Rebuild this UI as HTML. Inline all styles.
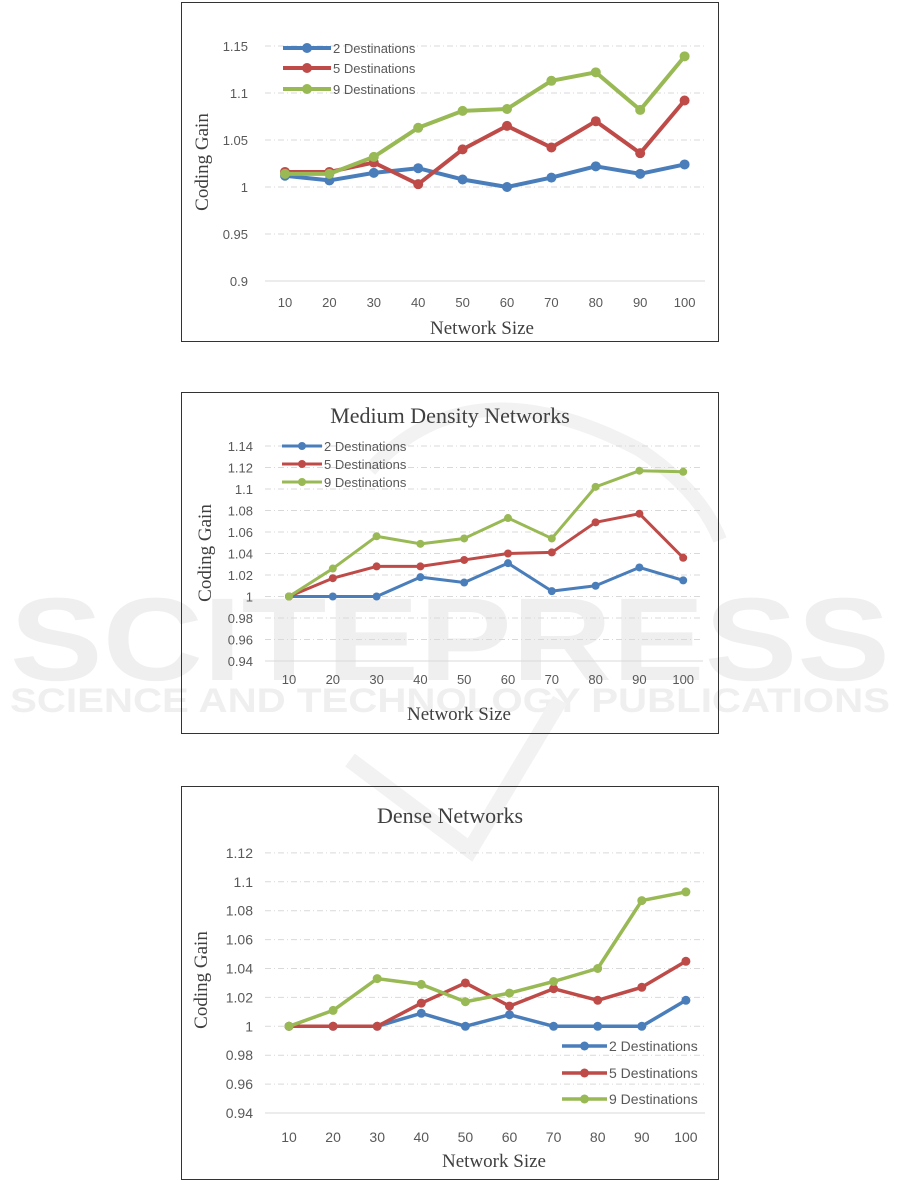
<!DOCTYPE html>
<html><head><meta charset="utf-8"><style>
html,body{margin:0;padding:0;background:#fff;width:901px;height:1181px;overflow:hidden}
svg{display:block}
.t{font-family:"Liberation Sans",sans-serif;fill:#595959}
.s{font-family:"Liberation Serif",serif;fill:#404040}
</style></head><body>
<svg id="g" width="901" height="1181" xmlns="http://www.w3.org/2000/svg">
<g fill="#efefef" font-family="Liberation Sans,sans-serif" font-weight="bold">
<text x="450" y="680" font-size="118" text-anchor="middle" textLength="880" lengthAdjust="spacingAndGlyphs">SCITEPRESS</text>
<text x="450" y="712" font-size="34" text-anchor="middle" textLength="880" lengthAdjust="spacingAndGlyphs">SCIENCE AND TECHNOLOGY PUBLICATIONS</text>
</g>
<path d="M370,470 Q470,360 640,450 Q700,490 720,540" fill="none" stroke="#f2f2f2" stroke-width="14"/>
<path d="M350,760 L470,850 L560,700" fill="none" stroke="#f2f2f2" stroke-width="16"/>
</svg>
<script>
const S=document.getElementById('g');const NS='http://www.w3.org/2000/svg';
function el(n,a,t){const e=document.createElementNS(NS,n);for(const k in a)e.setAttribute(k,a[k]);if(t!==undefined)e.textContent=t;S.appendChild(e);return e;}
const C=['#4a7ebb','#be4b48','#98b954'];
const L=['2 Destinations','5 Destinations','9 Destinations'];
function chart(o){
 el('rect',{x:o.bx,y:o.by,width:o.bw,height:o.bh,fill:'none',stroke:'#333','stroke-width':1});
 if(o.title)el('text',{x:450,y:o.ty,'font-size':o.tfs,'text-anchor':'middle',class:'s'},o.title);
 const Y=v=>o.y0-(v-o.v0)/o.step*o.py;
 for(let i=0;i<=o.n;i++){const v=o.v0+i*o.step,y=Y(v);
  el('line',{x1:o.gx1,x2:o.gx2,y1:y,y2:y,stroke:'#d9d9d9','stroke-width':1,'stroke-dasharray':i==0?'':'6,3,1,3'});
  el('text',{x:o.lx,y:y+5,'font-size':o.fs,'text-anchor':'end',class:'t'},o.lab[i]);}
 const X=i=>o.x0+i*o.dx;
 for(let i=0;i<10;i++)el('text',{x:X(i),y:o.xly,'font-size':o.fs,'text-anchor':'middle',class:'t'},(i+1)*10);
 el('text',{x:o.xtx,y:o.xty,'font-size':19,'text-anchor':'middle',class:'s'},'Network Size');
 el('text',{x:0,y:0,'font-size':19,'text-anchor':'middle',class:'s',transform:`translate(${o.ytx},${o.yty}) rotate(-90)`},'Coding Gain');
 o.d.forEach((d,k)=>{el('polyline',{points:d.map((v,i)=>X(i)+','+Y(v)).join(' '),fill:'none',stroke:C[k],'stroke-width':o.lw,'stroke-linejoin':'round'});
  d.forEach((v,i)=>el('circle',{cx:X(i),cy:Y(v),r:o.r,fill:C[k]}));});
 o.d.forEach((d,k)=>{const ly=o.ly[k];el('line',{x1:o.lgx,x2:o.lgx+o.lgw,y1:ly,y2:ly,stroke:C[k],'stroke-width':o.lw});
  el('circle',{cx:o.lgx+o.lgw/2,cy:ly,r:o.r,fill:C[k]});
  el('text',{x:o.lgx+o.lgw+2,y:ly+5,'font-size':o.lfs,class:'t'},L[k]);});
}
chart({bx:181.5,by:2.5,bw:537,bh:339,v0:0.9,step:0.05,n:5,y0:281,py:47,lab:['0.9','0.95','1','1.05','1.1','1.15'],
 gx1:265,gx2:705,lx:248,fs:13,x0:285,dx:44.4,xly:307,xtx:482,xty:334,ytx:208,yty:162,lw:4,r:5,
 lgx:283,lgw:48,ly:[48,68,89],lfs:13,
 d:[[1.012,1.007,1.015,1.02,1.008,1,1.01,1.022,1.014,1.024],[1.016,1.016,1.026,1.003,1.04,1.065,1.042,1.07,1.036,1.092],[1.014,1.014,1.032,1.063,1.081,1.083,1.113,1.122,1.082,1.139]]});
chart({bx:181.5,by:392.5,bw:537,bh:341,title:'Medium Density Networks',ty:423,tfs:22,v0:0.94,step:0.02,n:10,y0:661,py:21.5,
 lab:['0.94','0.96','0.98','1','1.02','1.04','1.06','1.08','1.1','1.12','1.14'],
 gx1:265,gx2:703,lx:253,fs:13,x0:289,dx:43.8,xly:684,xtx:459,xty:720,ytx:211,yty:553,lw:3,r:4,
 lgx:282,lgw:40,ly:[446,464,482],lfs:13,
 d:[[1,1,1,1.018,1.013,1.031,1.005,1.01,1.027,1.015],[1,1.017,1.028,1.028,1.034,1.04,1.041,1.069,1.077,1.036],[1,1.026,1.056,1.049,1.054,1.073,1.054,1.102,1.117,1.116]]});
chart({bx:181.5,by:786.5,bw:537,bh:393,title:'Dense Networks',ty:823,tfs:22,v0:0.94,step:0.02,n:9,y0:1113,py:28.9,
 lab:['0.94','0.96','0.98','1','1.02','1.04','1.06','1.08','1.1','1.12'],
 gx1:265,gx2:705,lx:253,fs:14,x0:289,dx:44.1,xly:1142,xtx:494,xty:1167,ytx:207,yty:980,lw:3.5,r:4.5,
 lgx:562,lgw:45,ly:[1046,1073,1099],lfs:14,
 d:[[1,1,1,1.009,1,1.008,1,1,1,1.018],[1,1,1,1.016,1.03,1.014,1.026,1.018,1.027,1.045],[1,1.011,1.033,1.029,1.017,1.023,1.031,1.04,1.087,1.093]]});
</script>
</body></html>
